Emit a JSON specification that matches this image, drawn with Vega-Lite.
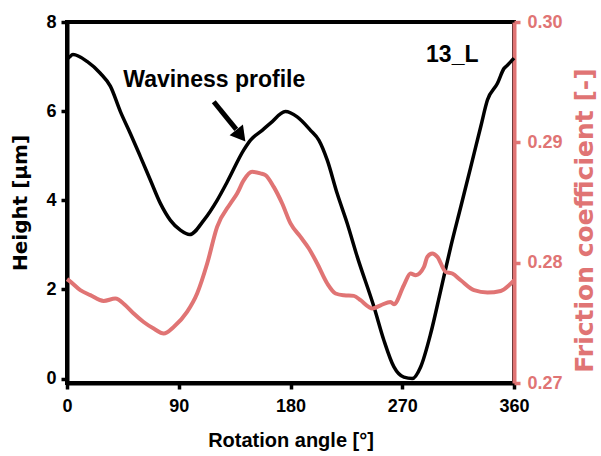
{
  "$schema": "https://vega.github.io/schema/vega-lite/v6.json",
  "width": 447,
  "height": 361,
  "autosize": {"type": "none"},
  "padding": {"left": 67, "top": 22, "right": 87, "bottom": 73},
  "background": "white",
  "config": {
    "font": "Liberation Sans",
    "view": {"stroke": "black", "strokeWidth": 4}
  },
  "datasets": {
    "height": [
      {"angle": 0, "height": 7.18}, {"angle": 1.0, "height": 7.19}, {"angle": 4.8, "height": 7.27},
      {"angle": 16.4, "height": 7.11}, {"angle": 26.8, "height": 6.85}, {"angle": 34.9, "height": 6.56},
      {"angle": 43.0, "height": 5.99}, {"angle": 51.0, "height": 5.50}, {"angle": 59.1, "height": 4.98},
      {"angle": 67.2, "height": 4.45}, {"angle": 75.2, "height": 3.93}, {"angle": 83.3, "height": 3.55},
      {"angle": 91.3, "height": 3.33}, {"angle": 98.8, "height": 3.23}, {"angle": 110.1, "height": 3.55},
      {"angle": 120.9, "height": 4.00}, {"angle": 129.0, "height": 4.41}, {"angle": 142.4, "height": 5.13},
      {"angle": 147.8, "height": 5.35}, {"angle": 157.2, "height": 5.57}, {"angle": 163.9, "height": 5.73},
      {"angle": 175.9, "height": 5.99}, {"angle": 185.4, "height": 5.87}, {"angle": 196.1, "height": 5.57},
      {"angle": 202.8, "height": 5.35}, {"angle": 209.6, "height": 4.90}, {"angle": 217.6, "height": 4.15},
      {"angle": 225.7, "height": 3.48}, {"angle": 233.8, "height": 2.73}, {"angle": 247.2, "height": 1.61},
      {"angle": 255.2, "height": 0.86}, {"angle": 263.3, "height": 0.26}, {"angle": 271.3, "height": 0.03},
      {"angle": 278.1, "height": 0.0}, {"angle": 284.8, "height": 0.26}, {"angle": 292.9, "height": 1.01},
      {"angle": 301.0, "height": 1.98}, {"angle": 309.0, "height": 2.95}, {"angle": 317.1, "height": 3.85},
      {"angle": 325.2, "height": 4.75}, {"angle": 333.2, "height": 5.65}, {"angle": 338.6, "height": 6.25},
      {"angle": 346.6, "height": 6.62}, {"angle": 352.0, "height": 6.96}, {"angle": 354.7, "height": 7.03},
      {"angle": 358.7, "height": 7.15}, {"angle": 360, "height": 7.19}
    ],
    "friction": [
      {"angle": 0, "friction": 0.27863}, {"angle": 1.3, "friction": 0.27854}, {"angle": 10.7, "friction": 0.27772},
      {"angle": 18.8, "friction": 0.27730}, {"angle": 29.5, "friction": 0.27682}, {"angle": 38.9, "friction": 0.27702},
      {"angle": 47.0, "friction": 0.27646}, {"angle": 53.7, "friction": 0.27577}, {"angle": 61.7, "friction": 0.27507},
      {"angle": 69.8, "friction": 0.27452}, {"angle": 77.9, "friction": 0.27411}, {"angle": 85.9, "friction": 0.27466},
      {"angle": 96.7, "friction": 0.27591}, {"angle": 104.8, "friction": 0.27744}, {"angle": 112.9, "friction": 0.27993},
      {"angle": 120.9, "friction": 0.28297}, {"angle": 131.6, "friction": 0.28492}, {"angle": 137.0, "friction": 0.28575},
      {"angle": 142.4, "friction": 0.28686}, {"angle": 149.1, "friction": 0.28755}, {"angle": 155.8, "friction": 0.28742},
      {"angle": 159.8, "friction": 0.28728}, {"angle": 166.5, "friction": 0.28630}, {"angle": 173.3, "friction": 0.28492},
      {"angle": 180.0, "friction": 0.28326}, {"angle": 188.1, "friction": 0.28214}, {"angle": 194.8, "friction": 0.28118},
      {"angle": 201.5, "friction": 0.27993}, {"angle": 209.6, "friction": 0.27827}, {"angle": 216.3, "friction": 0.27744},
      {"angle": 223.0, "friction": 0.27729}, {"angle": 231.0, "friction": 0.27724}, {"angle": 236.4, "friction": 0.27688},
      {"angle": 243.1, "friction": 0.27632}, {"angle": 245.9, "friction": 0.27619}, {"angle": 252.6, "friction": 0.27646},
      {"angle": 260.6, "friction": 0.27674}, {"angle": 263.3, "friction": 0.27655}, {"angle": 271.3, "friction": 0.27813},
      {"angle": 276.7, "friction": 0.27910}, {"angle": 280.8, "friction": 0.27896}, {"angle": 287.5, "friction": 0.27965},
      {"angle": 290.2, "friction": 0.28048}, {"angle": 294.2, "friction": 0.28076}, {"angle": 298.3, "friction": 0.28048},
      {"angle": 305.0, "friction": 0.27923}, {"angle": 310.3, "friction": 0.27910}, {"angle": 317.1, "friction": 0.27854},
      {"angle": 327.8, "friction": 0.27771}, {"angle": 338.6, "friction": 0.27752}, {"angle": 349.3, "friction": 0.27765},
      {"angle": 356.0, "friction": 0.27813}, {"angle": 360, "friction": 0.27854}
    ],
    "labels": [
      {"angle": 118.6, "height": 6.54, "text": "Waviness profile"},
      {"angle": 310.3, "height": 7.11, "text": "13_L"}
    ],
    "arrow": [
      {"angle": 118.2, "height": 6.21, "angle2": 136.3, "height2": 5.59}
    ],
    "arrowhead": [
      {"angle": 140.0, "height": 5.45}
    ]
  },
  "layer": [
    {
      "layer": [
        {
          "data": {"name": "height"},
          "mark": {"type": "line", "color": "black", "strokeWidth": 3.5, "interpolate": "monotone"},
          "encoding": {
            "x": {
              "field": "angle", "type": "quantitative",
              "scale": {"domain": [0, 360], "nice": false, "zero": false},
              "axis": {
                "values": [0, 90, 180, 270, 360], "title": "Rotation angle [°]", "grid": false,
                "domainColor": "black", "domainWidth": 4, "tickColor": "black", "tickWidth": 3.5, "tickSize": 6,
                "labelFontSize": 18, "labelFontWeight": "bold", "labelColor": "black", "labelPadding": 8,
                "labelOverlap": false, "labelFlush": false,
                "titleFontSize": 20, "titleFontWeight": "bold", "titleColor": "black", "titlePadding": 15
              }
            },
            "y": {
              "field": "height", "type": "quantitative",
              "scale": {"domain": [-0.1, 8], "nice": false, "zero": false},
              "axis": {
                "orient": "left", "values": [0, 2, 4, 6, 8], "title": "Height [µm]", "grid": false,
                "domainColor": "black", "domainWidth": 4, "tickColor": "black", "tickWidth": 3.5, "tickSize": 6,
                "labelFontSize": 18, "labelFontWeight": "bold", "labelColor": "black", "labelPadding": 5,
                "labelOverlap": false, "labelFlush": false,
                "titleFont": "DejaVu Sans", "titleFontSize": 20, "titleFontWeight": "bold", "titleColor": "black", "titlePadding": 15
              }
            }
          }
        },
        {
          "data": {"name": "arrow"},
          "mark": {"type": "rule", "color": "black", "strokeWidth": 5},
          "encoding": {
            "x": {"field": "angle", "type": "quantitative", "scale": {"domain": [0, 360], "nice": false, "zero": false}},
            "y": {"field": "height", "type": "quantitative", "scale": {"domain": [-0.1, 8], "nice": false, "zero": false}},
            "x2": {"field": "angle2"},
            "y2": {"field": "height2"}
          }
        },
        {
          "data": {"name": "arrowhead"},
          "mark": {"type": "point", "shape": "triangle-up", "size": 289, "angle": 141.6, "filled": true, "color": "black", "opacity": 1, "strokeWidth": 0},
          "encoding": {
            "x": {"field": "angle", "type": "quantitative", "scale": {"domain": [0, 360], "nice": false, "zero": false}},
            "y": {"field": "height", "type": "quantitative", "scale": {"domain": [-0.1, 8], "nice": false, "zero": false}}
          }
        },
        {
          "data": {"name": "labels"},
          "mark": {"type": "text", "fontSize": 23, "fontWeight": "bold", "color": "black", "align": "center", "baseline": "alphabetic"},
          "encoding": {
            "x": {"field": "angle", "type": "quantitative", "scale": {"domain": [0, 360], "nice": false, "zero": false}},
            "y": {"field": "height", "type": "quantitative", "scale": {"domain": [-0.1, 8], "nice": false, "zero": false}},
            "text": {"field": "text"}
          }
        }
      ]
    },
    {
      "data": {"name": "friction"},
      "mark": {"type": "line", "color": "#E07474", "strokeWidth": 4, "interpolate": "monotone"},
      "encoding": {
        "x": {"field": "angle", "type": "quantitative", "scale": {"domain": [0, 360], "nice": false, "zero": false}},
        "y": {
          "field": "friction", "type": "quantitative",
          "scale": {"domain": [0.27, 0.30], "nice": false, "zero": false},
          "axis": {
            "orient": "right", "values": [0.27, 0.28, 0.29, 0.30], "format": ".2f", "title": "Friction coefficient [-]", "grid": false,
            "domainColor": "#E07474", "domainWidth": 4, "tickColor": "#E07474", "tickWidth": 3.5, "tickSize": 6,
            "labelFontSize": 18, "labelFontWeight": "bold", "labelColor": "#E07474", "labelPadding": 7,
            "labelOverlap": false, "labelFlush": false,
            "titleFont": "DejaVu Sans", "titleFontSize": 25, "titleFontWeight": "bold", "titleColor": "#E07474", "titlePadding": 10,
            "titleAngle": 270, "titleBaseline": "top", "titleY": 198
          }
        }
      }
    }
  ],
  "resolve": {"scale": {"y": "independent"}}
}
